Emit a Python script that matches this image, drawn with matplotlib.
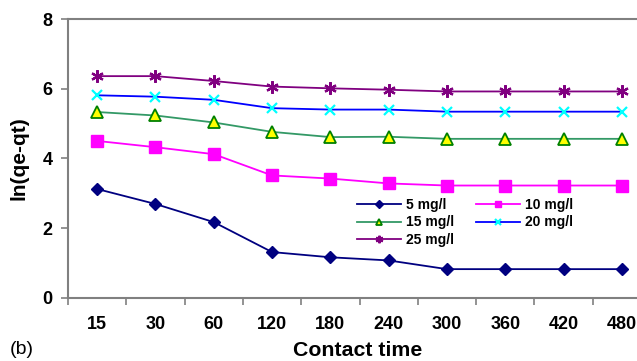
import matplotlib
matplotlib.use("Agg")
import matplotlib.pyplot as plt
import numpy as np

plt.rcParams['font.family'] = ['Liberation Sans', 'DejaVu Sans']

times = ['15', '30', '60', '120', '180', '240', '300', '360', '420', '480']
c5 = [3.12, 2.69, 2.17, 1.31, 1.16, 1.07, 0.82, 0.82, 0.82, 0.82]
c10 = [4.50, 4.32, 4.12, 3.51, 3.42, 3.28, 3.22, 3.22, 3.22, 3.22]
c15 = [5.33, 5.23, 5.03, 4.76, 4.61, 4.62, 4.56, 4.56, 4.56, 4.56]
c20 = [5.81, 5.77, 5.68, 5.44, 5.40, 5.40, 5.34, 5.34, 5.34, 5.34]
c25 = [6.36, 6.36, 6.22, 6.06, 6.01, 5.97, 5.92, 5.92, 5.92, 5.92]
labels = ['5 mg/l', '10 mg/l', '15 mg/l', '20 mg/l', '25 mg/l']

fig = plt.figure(figsize=(6.37, 3.61), dpi=100)
ax = fig.add_axes([68/637, (361-297.7)/361, (651-68)/637, (297.7-19)/361])

x = np.arange(len(times))
h5, = ax.plot(x, c5, color='#000080', lw=1.3, marker='D', ms=6.5, mfc='#000080', mec='#000080', label=labels[0])
h10, = ax.plot(x, c10, color='#FF00FF', lw=1.3, marker='s', ms=8, mfc='#FF00FF', mec='#FF00FF', label=labels[1])
h15, = ax.plot(x, c15, color='#339966', lw=1.3, marker='^', ms=8, mfc='#FFFF00', mec='#008000', mew=1.3, label=labels[2])
h20, = ax.plot(x, c20, color='#0000FF', lw=1.3, marker='x', ms=7.5, mfc='#00FFFF', mec='#00FFFF', mew=1.6, label=labels[3])
h25, = ax.plot(x, c25, color='#800080', lw=1.3, marker=(6, 2, 0), ms=9, mec='#800080', mew=1.6, label=labels[4])

ax.set_xlim(-0.5, 9.5)
ax.set_ylim(0, 8)
ax.set_yticks([0, 2, 4, 6, 8])
ax.set_xticks(x)
ax.set_xticklabels(times)
ax.set_xticks(np.arange(-0.5, 9.6, 1), minor=True)
ax.tick_params(axis='x', which='major', length=0, pad=13, labelsize=13)
ax.tick_params(axis='x', which='minor', length=5, color='#808080', width=1.2, direction='out')
ax.tick_params(axis='y', length=5, color='#808080', width=1.2, pad=6, labelsize=13)
for lab in ax.get_xticklabels() + ax.get_yticklabels():
    lab.set_fontweight('bold')

for s in ['left', 'bottom', 'top']:
    ax.spines[s].set_color('#808080')
    ax.spines[s].set_linewidth(1.5)
ax.spines['right'].set_visible(False)

ax.set_ylabel('ln(qe-qt)', fontsize=15, fontweight='bold')
ax.yaxis.set_label_coords((29-68)/583, 0.5)
fig.text(358/637, 1-350/361, 'Contact time', fontsize=15.3, fontweight='bold', ha='center', va='center')

fig.text(22/637, 1-350/361, '(b)', fontsize=14, va='center', ha='center')

handles = [h5, h15, h25, h10, h20]
leg = ax.legend(handles, [h.get_label() for h in handles], ncol=2, frameon=False,
                prop={'weight': 'bold', 'size': 10},
                loc='upper left', bbox_to_anchor=((350-68)/583, 1-(191-19)/278.7),
                handlelength=3.2, columnspacing=1.6, handletextpad=0.3,
                labelspacing=0.25, markerscale=0.6, borderpad=0)

fig.savefig('out.png', dpi=100)
